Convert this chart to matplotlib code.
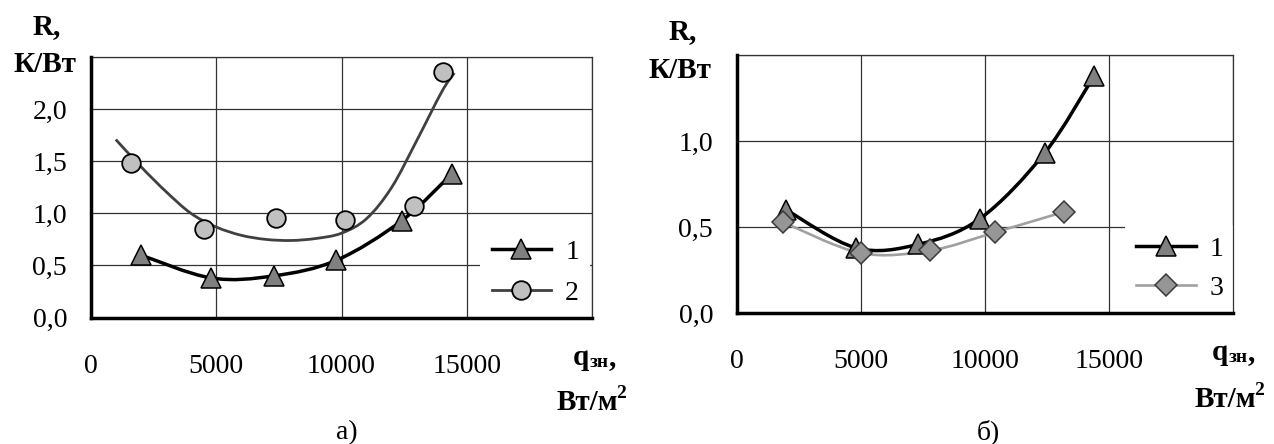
import numpy as np
import matplotlib
matplotlib.use("Agg")
import matplotlib.pyplot as plt
from matplotlib.path import Path
from matplotlib.patches import PathPatch
from matplotlib.lines import Line2D
from matplotlib.ticker import FixedLocator, FixedFormatter

plt.rcParams['font.family'] = ['Liberation Serif', 'DejaVu Serif']

# ---------------- data ----------------
# series 1 (triangles) - same on both panels
s1_x = [2000, 4800, 7300, 9800, 12400, 14400]
s1_y = [0.60, 0.38, 0.40, 0.55, 0.93, 1.38]

# series 2 (circles), panel a)
s2_x = [1600, 4500, 7400, 10150, 12900, 14050]
s2_y = [1.48, 0.85, 0.96, 0.94, 1.07, 2.36]
# curve for series 2
c2_x = [1000, 2000, 3000, 4000, 5000, 6000, 7000, 8000, 9000, 10000, 11000, 12000, 13000, 14000, 14500]
c2_y = [1.71, 1.45, 1.21, 1.00, 0.87, 0.79, 0.75, 0.74, 0.76, 0.81, 0.95, 1.25, 1.70, 2.17, 2.35]

# series 3 (diamonds), panel б)
s3_x = [1850, 5000, 7800, 10400, 13200]
s3_y = [0.53, 0.35, 0.365, 0.47, 0.59]

x_ticks = [0, 5000, 10000, 15000]
x_labels = ['0', '5000', '10000', '15000']
ya_ticks = [0, 0.5, 1.0, 1.5, 2.0]
ya_labels = ['0,0', '0,5', '1,0', '1,5', '2,0']
yb_ticks = [0, 0.5, 1.0]
yb_labels = ['0,0', '0,5', '1,0']

W, H = 1274, 444
fig = plt.figure(figsize=(W / 100, H / 100), dpi=100)


def smooth_path(x, y):
    pts = np.column_stack([x, y]).astype(float)
    n = len(pts)
    verts = [pts[0]]
    codes = [Path.MOVETO]
    for i in range(n - 1):
        p0 = pts[i - 1] if i > 0 else pts[i]
        p1 = pts[i]
        p2 = pts[i + 1]
        p3 = pts[i + 2] if i + 2 < n else pts[i + 1]
        c1 = p1 + (p2 - p0) / 6.0
        c2 = p2 - (p3 - p1) / 6.0
        verts += [c1, c2, p2]
        codes += [Path.CURVE4] * 3
    return Path(verts, codes)


def px_axes(x0, y0, x1, y1):
    return fig.add_axes([x0 / W, 1 - y1 / H, (x1 - x0) / W, (y1 - y0) / H])


def style_axes(ax, ymax, yticks, ylabels):
    ax.set_xlim(0, 20000)
    ax.set_ylim(0, ymax)
    ax.xaxis.set_major_locator(FixedLocator(x_ticks + [20000]))
    ax.xaxis.set_major_formatter(FixedFormatter(x_labels + ['']))
    gy = yticks + [ymax]
    ax.yaxis.set_major_locator(FixedLocator(gy))
    ax.yaxis.set_major_formatter(FixedFormatter(ylabels + ['']))
    ax.tick_params(length=0, labelsize=20)
    ax.tick_params(axis='y', pad=17)
    ax.tick_params(axis='x', pad=26)
    ax.grid(True, color='#333333', lw=0.9)
    ax.set_axisbelow(True)
    for s in ['top', 'right']:
        ax.spines[s].set_linewidth(0.9)
        ax.spines[s].set_color('#333333')
        ax.spines[s].set_zorder(7)
    for s in ['left', 'bottom']:
        ax.spines[s].set_linewidth(2.5)
        ax.spines[s].set_color('black')
        ax.spines[s].set_zorder(8)


tri = dict(marker='^', ms=15, mfc='#808080', mec='black', mew=1.1)
circ = dict(marker='o', ms=13.4, mfc='#c0c0c0', mec='black', mew=1.3)
dia = dict(marker='D', ms=11, mfc='#969696', mec='#3a3a3a', mew=1.1)


def add_labels(xR, yR, xK, yK, xq, yq, xB, yB, xp, yp, ptxt):
    fig.text(xR / W, 1 - yR / H, 'R,', fontsize=21, fontweight='bold', ha='center', va='center')
    fig.text(xK / W, 1 - yK / H, 'К/Вт', fontsize=21, fontweight='bold', ha='center', va='center')
    q = fig.text(xq / W, 1 - yq / H, 'q', fontsize=21, fontweight='bold', ha='left', va='baseline')
    zn = fig.text(0, 0, 'зн', fontsize=14, fontweight='bold', ha='left', va='baseline')
    fig.canvas.draw()
    bb = q.get_window_extent()
    zn.set_position(((bb.x1 + 0.5) / W, 1 - (yq + 2) / H))
    fig.canvas.draw()
    bb2 = zn.get_window_extent()
    fig.text((bb2.x1 + 0.5) / W, 1 - yq / H, ',', fontsize=21, fontweight='bold', ha='left', va='baseline')
    b = fig.text(xB / W, 1 - yB / H, 'Вт/м', fontsize=21, fontweight='bold', ha='left', va='baseline')
    fig.canvas.draw()
    bb3 = b.get_window_extent()
    fig.text((bb3.x1 - 2) / W, 1 - (yB - 12) / H, '2', fontsize=14, fontweight='bold', ha='left', va='baseline')
    fig.text(xp / W, 1 - yp / H, ptxt, fontsize=20, ha='center', va='center')


# ---------------- panel a ----------------
axa = px_axes(90.7, 57.3, 592.3, 317.5)
style_axes(axa, 2.5, ya_ticks, ya_labels)
axa.add_patch(PathPatch(smooth_path(c2_x, c2_y), fill=False, ec='#404040', lw=2.0, zorder=2))
axa.add_patch(PathPatch(smooth_path(s1_x, s1_y), fill=False, ec='black', lw=2.5, zorder=3,
                        capstyle='round', joinstyle='round'))
axa.plot(s1_x, s1_y, ls='none', zorder=4, **tri)
axa.plot(s2_x, s2_y, ls='none', zorder=4, **circ)
ha = [Line2D([], [], color='black', lw=2.5, **tri),
      Line2D([], [], color='#404040', lw=2.0, **circ)]
lg = axa.legend(ha, ['1', '2'], loc='center left', bbox_to_anchor=(0.777, 0.172),
                frameon=True, fancybox=False, edgecolor='none', facecolor='white', framealpha=1,
                fontsize=20, handlelength=2.15, handletextpad=0.5, labelspacing=0.55,
                borderpad=0.4, numpoints=1, borderaxespad=0)
lg.set_zorder(6)

# ---------------- panel b ----------------
axb = px_axes(736.7, 55.0, 1233.3, 313.3)
style_axes(axb, 1.5, yb_ticks, yb_labels)
axb.add_patch(PathPatch(smooth_path(s3_x, s3_y), fill=False, ec='#a0a0a0', lw=1.9, zorder=2))
axb.add_patch(PathPatch(smooth_path(s1_x, s1_y), fill=False, ec='black', lw=2.5, zorder=3,
                        capstyle='round', joinstyle='round'))
axb.plot(s1_x, s1_y, ls='none', zorder=4, **tri)
axb.plot(s3_x, s3_y, ls='none', zorder=4, **dia)
hb = [Line2D([], [], color='black', lw=2.5, **tri),
      Line2D([], [], color='#a0a0a0', lw=1.9, **dia)]
lg2 = axb.legend(hb, ['1', '3'], loc='center left', bbox_to_anchor=(0.782, 0.173),
                 frameon=True, fancybox=False, edgecolor='none', facecolor='white', framealpha=1,
                 fontsize=20, handlelength=2.15, handletextpad=0.5, labelspacing=0.5,
                 borderpad=0.4, numpoints=1, borderaxespad=0)
lg2.set_zorder(6)

add_labels(47, 27, 45, 65, 572.7, 365, 557, 410, 347, 433, 'а)')
add_labels(683, 32, 680, 70, 1211.7, 360, 1195, 406.7, 988, 432, 'б)')

fig.savefig('out.png', dpi=100)
